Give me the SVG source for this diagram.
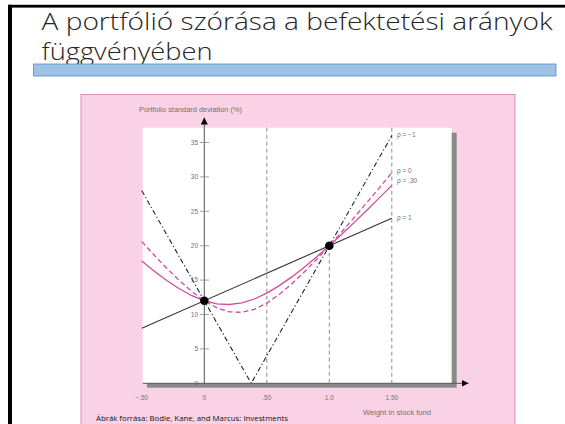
<svg xmlns="http://www.w3.org/2000/svg" width="565" height="424" viewBox="0 0 565 424">
<style>
.t{font-family:"Liberation Sans",Arial,sans-serif;font-size:6.5px;fill:#707070}
.tc{text-anchor:middle}
.tr{text-anchor:end}
.grid{stroke:#707070;stroke-width:0.8;stroke-dasharray:4,3;fill:none}
.mag{stroke:#D14A9E;stroke-width:1.3;fill:none}
.axis{stroke:#555;stroke-width:1;fill:none}
.tick{stroke:#888;stroke-width:0.8}
</style>
<defs>
<marker id="arr" viewBox="0 0 10 10" refX="10" refY="5" markerWidth="7" markerHeight="7" markerUnits="userSpaceOnUse" orient="auto"><path d="M0,0 L10,5 L0,10 z" fill="#000"/></marker>
</defs>
<rect width="565" height="424" fill="#fff"/>
<rect x="8" y="4.8" width="557" height="2.8" fill="#000"/>
<rect x="8" y="4.8" width="4" height="420" fill="#000"/>
<g id="title" font-family="'Open Sans','Liberation Sans',sans-serif" font-weight="300" font-size="23" fill="#262626">
<text x="41.5" y="30" textLength="511" lengthAdjust="spacingAndGlyphs">A portfólió szórása a befektetési arányok</text>
<text x="41.5" y="60" textLength="171" lengthAdjust="spacingAndGlyphs">függvényében</text>
</g>
<rect id="bar" x="33.5" y="64" width="522.5" height="12" fill="#9DC3E6" stroke="#5B8CC0" stroke-width="0.8"/>
<rect id="panel" x="81" y="94.5" width="434" height="335" fill="#F9D3E5" stroke="#D884BA" stroke-width="0.9"/>
<g id="plot">
<rect x="147" y="132.7" width="309.7" height="255" fill="#8A8A8A"/>
<rect x="142.7" y="127.7" width="309" height="255.6" fill="#fff"/>
</g>
<g id="connectors">
<line class="grid" x1="266.8" y1="127.7" x2="266.8" y2="383.3"/>
<line class="grid" x1="391.8" y1="127.7" x2="391.8" y2="383.3"/>
<line class="grid" x1="329.3" y1="245.7" x2="329.3" y2="383.3"/>
<polyline id="rho1" points="141.8,328.3 391.8,218.2" stroke="#333" stroke-width="1.1" fill="none"/>
<polyline id="rhom1" points="141.8,190.7 251.2,383.3 391.8,135.6" stroke="#222" stroke-width="1.1" stroke-dasharray="5,2.5,1.2,2.5" fill="none"/>
<polyline id="rho0" class="mag" stroke-dasharray="5,3" points="141.8,241.6 154.3,255.3 166.8,268.3 179.3,280.4 191.8,291.5 204.3,300.7 216.8,307.8 229.3,311.8 241.8,312.3 254.3,309.3 266.8,303.1 279.3,294.4 291.8,283.8 304.3,272.0 316.8,259.2 329.3,245.7 341.8,231.7 354.3,217.4 366.8,202.7 379.3,187.8 391.8,172.8"/>
<polyline id="rho30" class="mag" points="141.8,261.0 154.3,271.2 166.8,280.5 179.3,288.8 191.8,295.7 204.3,300.7 216.8,303.8 229.3,304.5 241.8,302.8 254.3,299.0 266.8,293.1 279.3,285.6 291.8,276.9 304.3,267.2 316.8,256.7 329.3,245.7 341.8,234.2 354.3,222.4 366.8,210.2 379.3,197.9 391.8,185.4"/>
</g>
<g id="axes">
<line class="axis" x1="204.3" y1="383.3" x2="204.3" y2="117.5" marker-end="url(#arr)"/>
<line class="axis" x1="142.7" y1="383.3" x2="468.5" y2="383.3" marker-end="url(#arr)"/>
<g class="tick">
<line x1="200" y1="348.9" x2="209" y2="348.9"/>
<line x1="200" y1="314.5" x2="209" y2="314.5"/>
<line x1="200" y1="280.1" x2="209" y2="280.1"/>
<line x1="200" y1="245.7" x2="209" y2="245.7"/>
<line x1="200" y1="211.3" x2="209" y2="211.3"/>
<line x1="200" y1="176.9" x2="209" y2="176.9"/>
<line x1="200" y1="142.5" x2="209" y2="142.5"/>
<line x1="266.8" y1="383.3" x2="266.8" y2="387"/>
<line x1="329.3" y1="383.3" x2="329.3" y2="387"/>
<line x1="391.8" y1="383.3" x2="391.8" y2="387"/>
</g>
</g>
<g id="ylabels" class="t tr">
<text x="198" y="385.5">0</text>
<text x="198" y="351.1">5</text>
<text x="198" y="316.7">10</text>
<text x="198" y="282.3">15</text>
<text x="198" y="247.9">20</text>
<text x="198" y="213.5">25</text>
<text x="198" y="179.1">30</text>
<text x="198" y="144.7">35</text>
</g>
<g id="xlabels" class="t tc">
<text x="141.8" y="400">−.50</text>
<text x="204.3" y="400">0</text>
<text x="266.8" y="400">.50</text>
<text x="329.3" y="400">1.0</text>
<text x="391.8" y="400">1.50</text>
</g>
<text id="ytitle" class="t" x="139" y="112" textLength="103" lengthAdjust="spacingAndGlyphs">Portfolio standard deviation (%)</text>
<text id="xtitle" class="t" x="363" y="415" textLength="68" lengthAdjust="spacingAndGlyphs">Weight in stock fund</text>
<g id="rholabels" class="t">
<text x="397" y="136.5">ρ = −1</text>
<text x="397" y="172.5">ρ = 0</text>
<text x="397" y="183">ρ = .30</text>
<text x="397" y="220">ρ = 1</text>
</g>
<g id="dots" fill="#000">
<circle cx="204.3" cy="300.7" r="4.3"/>
<circle cx="329.3" cy="245.7" r="4.3"/>
</g>
<text id="source" x="96" y="421" font-family="'Open Sans','Liberation Sans',sans-serif" font-size="8" fill="#111" textLength="192" lengthAdjust="spacingAndGlyphs">Ábrák forrása: Bodie, Kane, and Marcus: Investments</text>
</svg>
